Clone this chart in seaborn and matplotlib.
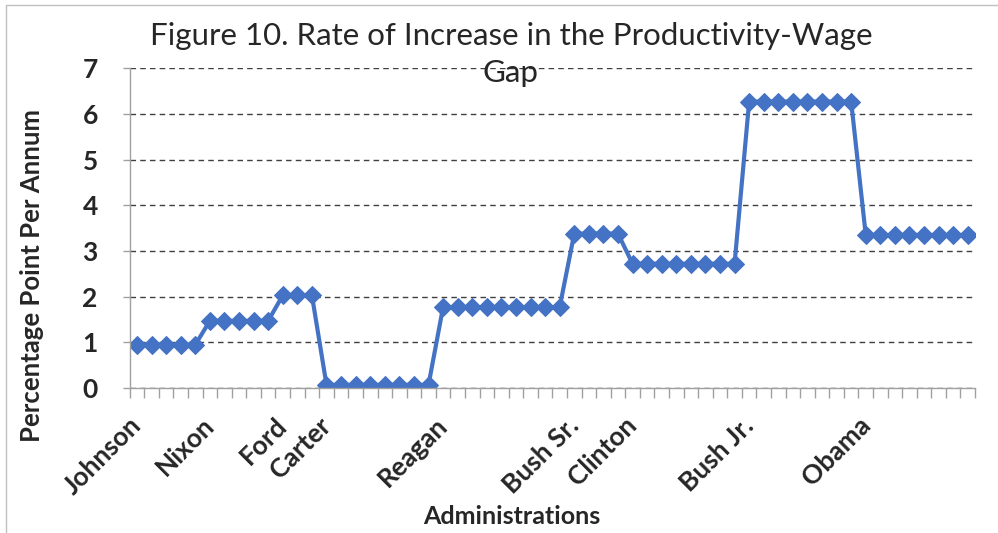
import matplotlib
matplotlib.use("Agg")
import matplotlib.pyplot as plt
from matplotlib.ticker import FixedLocator
import matplotlib.transforms as mtransforms
import seaborn as sns
import pandas as pd
import numpy as np

admins = ["Johnson", "Nixon", "Ford", "Carter", "Reagan", "Bush Sr.", "Clinton", "Bush Jr.", "Obama"]
years_per_admin = [5, 5, 3, 8, 9, 4, 8, 8, 8]
rates = [0.95, 1.47, 2.03, 0.07, 1.77, 3.38, 2.72, 6.27, 3.35]

vals = []
labels = []
for a, n, r in zip(admins, years_per_admin, rates):
    for i in range(n):
        vals.append(r)
        labels.append(a if i == 0 else "")
df = pd.DataFrame({"idx": np.arange(len(vals)), "rate": vals})

sns.set_theme(style="white")
plt.rcParams['font.family'] = ['Lato', 'DejaVu Sans']

fig = plt.figure(figsize=(9.98, 5.33), dpi=100)
ax = fig.add_axes([0.130, 0.272, 0.847, 0.6])

sns.lineplot(data=df, x="idx", y="rate", ax=ax, color="#4472C4", linewidth=3,
             marker="D", markersize=9, markeredgecolor="#4472C4")

n = len(vals)
ax.set_xlim(-0.5, n - 0.5)
ax.set_ylim(0, 7)
ax.set_yticks(range(0, 8))
ax.yaxis.grid(True, linestyle=(0, (4, 3)), color="#404040", linewidth=1)
ax.set_axisbelow(True)

pos = [i for i, l in enumerate(labels) if l]
ax.set_xticks(pos)
ax.set_xticklabels([labels[i] for i in pos], rotation=45, ha="right", rotation_mode="anchor",
                   fontsize=19, fontweight="bold")
ax.xaxis.set_minor_locator(FixedLocator(np.arange(-0.5, n, 1)))
ax.tick_params(axis="x", which="major", length=0, pad=18)
ax.tick_params(axis="x", which="minor", length=7, color="#A0A0A0", width=1, bottom=True)
ax.tick_params(axis="y", length=5, color="#A0A0A0", width=1, left=True, labelsize=19, pad=18)
for t in ax.get_yticklabels():
    t.set_fontweight("bold")
offset = mtransforms.ScaledTranslation(-8 / 100, 0, fig.dpi_scale_trans)
for t in ax.get_xticklabels():
    t.set_transform(t.get_transform() + offset)

for s in ["top", "right"]:
    ax.spines[s].set_visible(False)
for s in ["left", "bottom"]:
    ax.spines[s].set_color("#A0A0A0")
    ax.spines[s].set_linewidth(1)

ax.set_xlabel("Administrations", fontsize=18, fontweight="bold")
ax.xaxis.set_label_coords(0.452, -0.403)
ax.xaxis.label.set_va("center")
ax.set_ylabel("Percentage Point Per Annum", fontsize=18.5, fontweight="bold")
ax.yaxis.set_label_coords(-0.116, 0.353)
ax.yaxis.label.set_va("center")

fig.text(0.512, 0.897, "Figure 10. Rate of Increase in the Productivity-Wage\nGap",
         ha="center", va="center", fontsize=22.5, linespacing=1.4)

fig.add_artist(plt.Line2D([0.006, 0.006], [0, 0.991], color="#C0C0C0", linewidth=1,
                          transform=fig.transFigure))
fig.add_artist(plt.Line2D([0.006, 1], [0.991, 0.991], color="#C0C0C0", linewidth=1,
                          transform=fig.transFigure))

fig.savefig("out.png", dpi=100)
